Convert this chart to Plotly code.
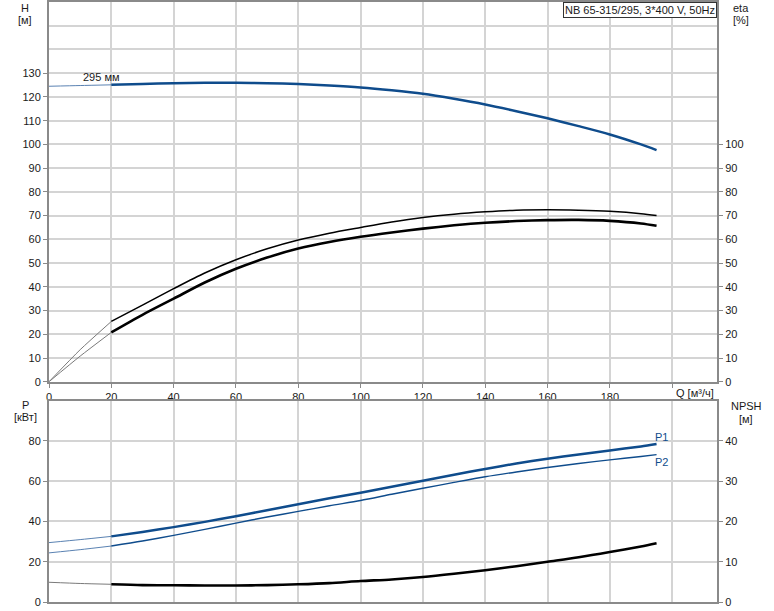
import plotly.graph_objects as go

# ---- data ----
q = [0, 10, 20, 30, 40, 50, 60, 70, 80, 90, 100, 110, 120, 130, 140, 150, 160, 170, 180, 190, 195]
h = [124.5, 124.8, 125.1, 125.5, 125.8, 126.0, 126.0, 125.8, 125.4, 124.8, 124.0, 122.8, 121.3,
     119.2, 116.8, 114.0, 111.0, 107.7, 104.2, 100.0, 97.6]
eta_a = [0, 13.5, 25.4, 32.3, 39.2, 45.8, 51.4, 56.0, 59.7, 62.6, 65.0, 67.3, 69.2, 70.6, 71.6,
         72.3, 72.5, 72.3, 71.8, 70.8, 70.0]
eta_b = [0, 10.8, 20.8, 28.2, 35.0, 41.8, 47.6, 52.3, 56.1, 58.9, 61.1, 62.9, 64.5, 65.9, 67.0,
         67.7, 68.1, 68.2, 67.8, 66.7, 65.7]
p1 = [29.5, 31, 32.6, 34.8, 37.2, 39.8, 42.6, 45.6, 48.6, 51.5, 54.3, 57.3, 60.2, 63.2, 66.1, 68.8,
      71.2, 73.3, 75.3, 77.3, 78.5]
p2 = [24.4, 26, 27.8, 30.3, 33.1, 36.1, 39.2, 42.2, 45.0, 47.8, 50.4, 53.5, 56.5, 59.4, 62.2, 64.6,
      66.8, 68.8, 70.6, 72.3, 73.2]
npsh = [4.9, 4.6, 4.4, 4.2, 4.15, 4.1, 4.1, 4.2, 4.4, 4.7, 5.2, 5.6, 6.2, 7.0, 7.9, 8.9, 10.0,
        11.1, 12.4, 13.8, 14.6]

x_ticks = [0, 20, 40, 60, 80, 100, 120, 140, 160, 180, 200]
x_ticktext = ["0", "20", "40", "60", "80", "100", "120", "140", "160", "180", ""]
x_title = "Q [м³/ч]"
h_ticks = list(range(0, 140, 10))
eta_ticks = list(range(0, 110, 10))
p_ticks = [0, 20, 40, 60, 80]
npsh_ticks = [0, 10, 20, 30, 40]

title_text = "NB 65-315/295, 3*400 V, 50Hz"
curve_label = "295 мм"

# ---- styling ----
BLUE = "#0f4c8c"
BLUE_THIN = "#5a82b2"
BLACK_THIN = "#7a7a7a"
GRID = "#d4d4d4"
AXIS = "#8a8a8a"
FONT = "Liberation Sans, Arial, sans-serif"
TXT = "#1a1a1a"
SPLIT = 2  # index where the operating range (thick line) begins

fig = go.Figure()

def seg(x, y, xa, ya, color, thin_color, w_thick):
    fig.add_trace(go.Scatter(x=x[:SPLIT + 1], y=y[:SPLIT + 1], xaxis=xa, yaxis=ya, mode="lines",
                             line=dict(color=thin_color, width=1.0, shape="spline", smoothing=0.6),
                             hoverinfo="skip"))
    fig.add_trace(go.Scatter(x=x[SPLIT:], y=y[SPLIT:], xaxis=xa, yaxis=ya, mode="lines",
                             line=dict(color=color, width=w_thick, shape="spline", smoothing=0.8),
                             hoverinfo="skip"))

# top panel
seg(q, h, "x", "y", BLUE, BLUE_THIN, 2.5)
seg(q, eta_a, "x", "y2", "black", BLACK_THIN, 1.5)
seg(q, eta_b, "x", "y2", "black", BLACK_THIN, 2.6)
# bottom panel
seg(q, p1, "x2", "y3", BLUE, BLUE_THIN, 2.5)
seg(q, p2, "x2", "y3", BLUE, BLUE_THIN, 1.4)
seg(q, npsh, "x2", "y4", "black", BLACK_THIN, 2.6)

XR = [0, 214.4]
tickfont = dict(family=FONT, size=11, color=TXT)

common_x = dict(range=XR, tickvals=x_ticks, showgrid=True, gridcolor=GRID, gridwidth=1.5,
                zeroline=False, showline=True, linecolor=AXIS, linewidth=2, mirror=True,
                tickfont=tickfont)

fig.update_layout(
    width=774, height=611,
    margin=dict(l=49, r=57, t=0, b=9),
    paper_bgcolor="white", plot_bgcolor="white",
    showlegend=False,
    font=dict(family=FONT, size=11, color=TXT),
    xaxis=dict(**common_x, anchor="y", ticktext=x_ticktext, ticks="outside", ticklen=4,
               tickcolor=AXIS),
    yaxis=dict(domain=[0.3671, 1], range=[0, 160], tickvals=h_ticks, showgrid=True,
               gridcolor=GRID, gridwidth=1.5, zeroline=False, showline=True, linecolor=AXIS,
               linewidth=2, ticks="outside", ticklen=4, tickcolor=AXIS, tickfont=tickfont,
               minor=dict(tickvals=[140, 150, 160], showgrid=True, gridcolor=GRID, gridwidth=1.5,
                          ticks=""),
               anchor="x"),
    yaxis2=dict(overlaying="y", side="right", range=[0, 160], tickvals=eta_ticks, showgrid=False,
                zeroline=False, showline=True, linecolor=AXIS, linewidth=2, ticks="outside",
                ticklen=4, tickcolor=AXIS, tickfont=tickfont, anchor="x"),
    xaxis2=dict(**common_x, anchor="y3", showticklabels=False, ticks=""),
    yaxis3=dict(domain=[0, 0.3355], range=[0, 100], tickvals=p_ticks, showgrid=True,
                gridcolor=GRID, gridwidth=1.5, zeroline=False, showline=True, linecolor=AXIS,
                linewidth=2, ticks="outside", ticklen=4, tickcolor=AXIS, tickfont=tickfont,
                minor=dict(tickvals=[100], showgrid=True, gridcolor=GRID, gridwidth=1.5, ticks=""),
                anchor="x2"),
    yaxis4=dict(overlaying="y3", side="right", range=[0, 50], tickvals=npsh_ticks, showgrid=False,
                zeroline=False, showline=True, linecolor=AXIS, linewidth=2, ticks="outside",
                ticklen=4, tickcolor=AXIS, tickfont=tickfont, anchor="x2"),
)

ann = []
ann.append(dict(text=title_text, xref="paper", yref="paper", x=1, y=1, xanchor="right",
                yanchor="top", showarrow=False, bgcolor="white", bordercolor="#333",
                borderwidth=1, borderpad=1, font=dict(family=FONT, size=11, color=TXT)))
# axis titles: (text, x px, y px center) converted to paper coordinates
PLOT_L, PLOT_W, PLOT_H = 49, 668, 602
for txt, xpx, ypx in [("H", 25, 6), ("[м]", 25, 18), ("eta", 741, 6), ("[%]", 741, 18),
                      ("P", 25, 404), ("[кВт]", 25, 416), ("NPSH", 746, 405), ("[м]", 746, 418),
                      (x_title, 695, 392)]:
    ann.append(dict(text=txt, xref="paper", yref="paper", x=(xpx - PLOT_L) / PLOT_W,
                    y=(PLOT_H - ypx) / PLOT_H, xanchor="center", yanchor="middle",
                    showarrow=False, font=dict(family=FONT, size=11, color=TXT)))
ann.append(dict(text=curve_label, xref="x", yref="y", x=17, y=128.2, showarrow=False,
                font=dict(family=FONT, size=11, color=TXT)))
ann.append(dict(text="P1", xref="x2", yref="y3", x=196.5, y=81.8, showarrow=False,
                font=dict(family=FONT, size=11, color=BLUE)))
ann.append(dict(text="P2", xref="x2", yref="y3", x=196.5, y=69.6, showarrow=False,
                font=dict(family=FONT, size=11, color=BLUE)))
fig.update_layout(annotations=ann)

fig.write_html("out.html", config={"displayModeBar": False},
               post_script="document.body.style.margin='0';document.body.style.overflow='hidden';")
